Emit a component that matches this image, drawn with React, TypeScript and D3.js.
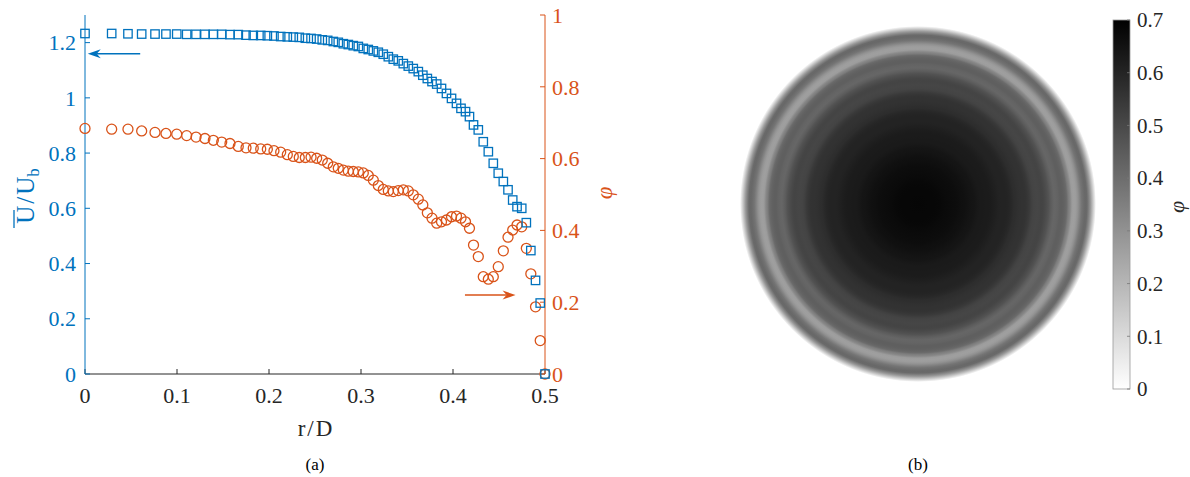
import React from "react";
import * as d3 from "d3";

// r/D sample positions (shared by both series)
const R = [
  0, 0.029, 0.0467, 0.0616, 0.0761, 0.088, 0.0997, 0.1105, 0.1207, 0.1304,
  0.1395, 0.1486, 0.1576, 0.1666, 0.175, 0.1829, 0.191, 0.1982, 0.2054, 0.2127,
  0.2199, 0.2264, 0.2329, 0.2395, 0.2457, 0.2518, 0.2579, 0.2638, 0.2699, 0.2753,
  0.2808, 0.2862, 0.2916, 0.2971, 0.3025, 0.3079, 0.3134, 0.3188, 0.3242, 0.3297,
  0.3351, 0.3405, 0.346, 0.3514, 0.3568, 0.3623, 0.3672, 0.3721, 0.3772, 0.3823,
  0.3875, 0.3929, 0.3984, 0.4038, 0.4087, 0.4136, 0.4179, 0.4223, 0.4275, 0.4329,
  0.4384, 0.4438, 0.4492, 0.4547, 0.4598, 0.4649, 0.4696, 0.4747, 0.4797, 0.4846,
  0.4897, 0.4948, 0.5,
];

// mean velocity U/Ub (squares, left axis)
const U = [
  1.233, 1.233, 1.232, 1.231, 1.231, 1.231, 1.231, 1.23, 1.23, 1.23,
  1.23, 1.23, 1.229, 1.229, 1.227, 1.226, 1.226, 1.225, 1.224, 1.222,
  1.221, 1.22, 1.219, 1.216, 1.215, 1.213, 1.21, 1.208, 1.204, 1.201,
  1.196, 1.193, 1.189, 1.186, 1.179, 1.175, 1.17, 1.165, 1.158, 1.149,
  1.14, 1.134, 1.124, 1.115, 1.106, 1.095, 1.082, 1.07, 1.059, 1.05,
  1.034, 1.016, 0.998, 0.98, 0.962, 0.95, 0.932, 0.902, 0.884, 0.841,
  0.805, 0.763, 0.727, 0.697, 0.667, 0.63, 0.606, 0.6, 0.548, 0.447,
  0.339, 0.257, 0.0,
];

// volume fraction phi (circles, right axis)
const PHI = [
  0.684, 0.682, 0.682, 0.677, 0.673, 0.67, 0.668, 0.664, 0.66, 0.656,
  0.651, 0.646, 0.642, 0.634, 0.63, 0.629, 0.627, 0.626, 0.622, 0.618,
  0.611, 0.606, 0.603, 0.603, 0.604, 0.601, 0.596, 0.587, 0.577, 0.573,
  0.568, 0.565, 0.564, 0.563, 0.56, 0.553, 0.54, 0.525, 0.514, 0.51,
  0.508, 0.511, 0.513, 0.51, 0.499, 0.487, 0.471, 0.449, 0.434, 0.42,
  0.424, 0.429, 0.438, 0.44, 0.434, 0.424, 0.406, 0.359, 0.327, 0.271,
  0.264, 0.271, 0.299, 0.343, 0.381, 0.401, 0.415, 0.41, 0.35, 0.279,
  0.187, 0.093, 0.0,
];

const X_TICKS = [0, 0.1, 0.2, 0.3, 0.4, 0.5];
const U_TICKS = [0, 0.2, 0.4, 0.6, 0.8, 1, 1.2];
const PHI_TICKS = [0, 0.2, 0.4, 0.6, 0.8, 1];
const CB_TICKS = [0, 0.1, 0.2, 0.3, 0.4, 0.5, 0.6, 0.7];

const BLUE = "#0072BD";
const ORANGE = "#D95319";
const AXIS = "#262626";
const FONT = "\"Liberation Serif\", \"Times New Roman\", Tinos, \"DejaVu Serif\", serif";

const fmt = (v: number) => (Math.abs(v - Math.round(v)) < 1e-9 ? String(Math.round(v)) : String(+v.toFixed(2)));

export default function App() {
  const x = d3.scaleLinear().domain([0, 0.5]).range([85, 545]);
  const yU = d3.scaleLinear().domain([0, 1.3]).range([374, 15]);
  const yP = d3.scaleLinear().domain([0, 1]).range([374, 15]);

  // right panel
  const cx = 918;
  const cy = 204;
  const rad = d3.scaleLinear().domain([0, 0.5]).range([0, 178]);
  const gray = d3.scaleLinear<string>().domain([0, 0.7]).range(["#ffffff", "#000000"]).clamp(true);
  const cbY = d3.scaleLinear().domain([0, 0.7]).range([389, 20]);

  const sq = 8.4;
  const blueArrow = { from: 0.06, to: 0.003, val: 1.16 };
  const orangeArrow = { from: 0.413, to: 0.468, val: 0.22 };

  const arrowHead = (tipX: number, tipY: number, dir: number, color: string) => {
    const L = 13, W = 4.5, N = 9;
    const d = `M${tipX},${tipY} L${tipX - dir * L},${tipY - W} L${tipX - dir * N},${tipY} L${tipX - dir * L},${tipY + W} Z`;
    return <path d={d} fill={color} stroke="none" />;
  };

  return (
    <svg width={1190} height={477} style={{ position: "absolute", left: 0, top: 0, background: "#fff", fontFamily: FONT }}>
      <defs>
        <radialGradient id="disk" gradientUnits="userSpaceOnUse" cx={cx} cy={cy} r={rad(0.5)}>
          {R.map((r, i) => (
            <stop key={i} offset={r / 0.5} stopColor={gray(PHI[i])} />
          ))}
        </radialGradient>
        <linearGradient id="cb" x1="0" y1="1" x2="0" y2="0">
          <stop offset="0" stopColor={gray(0)} />
          <stop offset="1" stopColor={gray(0.7)} />
        </linearGradient>
      </defs>

      {/* ===== Panel (a) ===== */}
      <line x1={x(0)} x2={x(0.5)} y1={374} y2={374} stroke={AXIS} strokeWidth={1} />
      {X_TICKS.map((t) => (
        <g key={t}>
          <line x1={x(t)} x2={x(t)} y1={374} y2={369} stroke={AXIS} strokeWidth={1} />
          <text x={x(t)} y={403} fontSize={22} textAnchor="middle" fill={AXIS}>{fmt(t)}</text>
        </g>
      ))}
      <text x={x(0.25)} y={436} fontSize={23} textAnchor="middle" fill={AXIS}>
        <tspan>r</tspan><tspan dx={2}>/</tspan><tspan dx={2}>D</tspan>
      </text>
      <text x={x(0.25)} y={470} fontSize={17} textAnchor="middle" fill="#000">(a)</text>

      {/* left axis */}
      <line x1={x(0)} x2={x(0)} y1={15} y2={374} stroke={BLUE} strokeWidth={1} />
      {U_TICKS.map((t) => (
        <g key={t}>
          <line x1={x(0)} x2={x(0) + 5} y1={yU(t)} y2={yU(t)} stroke={BLUE} strokeWidth={1} />
          <text x={76} y={yU(t)} dy="0.35em" fontSize={22} textAnchor="end" fill={BLUE}>{fmt(t)}</text>
        </g>
      ))}
      <g transform={`translate(34,${196}) rotate(-90)`}>
        <text x={0} y={0} fontSize={25} textAnchor="middle" fill={BLUE}>
          <tspan>U</tspan><tspan dx={2}>/</tspan><tspan dx={2}>U</tspan>
          <tspan fontSize={17} dy={5}>b</tspan>
        </text>
        <line x1={-32} x2={-14} y1={-20} y2={-20} stroke={BLUE} strokeWidth={1.3} />
      </g>

      {/* right axis */}
      <line x1={x(0.5)} x2={x(0.5)} y1={15} y2={374} stroke={ORANGE} strokeWidth={1} />
      {PHI_TICKS.map((t) => (
        <g key={t}>
          <line x1={x(0.5)} x2={x(0.5) - 5} y1={yP(t)} y2={yP(t)} stroke={ORANGE} strokeWidth={1} />
          <text x={552} y={yP(t)} dy="0.35em" fontSize={22} textAnchor="start" fill={ORANGE}>{fmt(t)}</text>
        </g>
      ))}
      <g transform={`translate(604,${193}) rotate(-90)`}>
        <text x={0} y={0} dy="0.35em" fontSize={23} fontStyle="italic" textAnchor="middle" fill={ORANGE}>φ</text>
      </g>

      {/* circles (phi) */}
      {R.map((r, i) => (
        <circle key={"c" + i} cx={x(r)} cy={yP(PHI[i])} r={5} fill="none" stroke={ORANGE} strokeWidth={1.3} />
      ))}
      {/* squares (U) */}
      {R.map((r, i) => (
        <rect key={"s" + i} x={x(r) - sq / 2} y={yU(U[i]) - sq / 2} width={sq} height={sq} fill="none" stroke={BLUE} strokeWidth={1.3} />
      ))}

      {/* arrows */}
      <line x1={x(blueArrow.from)} x2={x(blueArrow.to) + 9} y1={yU(blueArrow.val)} y2={yU(blueArrow.val)} stroke={BLUE} strokeWidth={1.5} />
      {arrowHead(x(blueArrow.to), yU(blueArrow.val), -1, BLUE)}
      <line x1={x(orangeArrow.from)} x2={x(orangeArrow.to) - 9} y1={yP(orangeArrow.val)} y2={yP(orangeArrow.val)} stroke={ORANGE} strokeWidth={1.5} />
      {arrowHead(x(orangeArrow.to), yP(orangeArrow.val), 1, ORANGE)}

      {/* ===== Panel (b) ===== */}
      <circle cx={cx} cy={cy} r={rad(0.5)} fill="url(#disk)" />
      <text x={cx} y={470} fontSize={17} textAnchor="middle" fill="#000">(b)</text>

      {/* colorbar */}
      <rect x={1113} y={cbY(0.7)} width={17} height={cbY(0) - cbY(0.7)} fill="url(#cb)" stroke="#999" strokeWidth={0.8} />
      {CB_TICKS.map((t) => (
        <g key={t}>
          <line x1={1130} x2={1127} y1={cbY(t)} y2={cbY(t)} stroke="#777" strokeWidth={0.8} />
          <text x={1137} y={cbY(t)} dy="0.35em" fontSize={21} fill={AXIS}>{fmt(t)}</text>
        </g>
      ))}
      <g transform={`translate(1176,${207}) rotate(-90)`}>
        <text x={0} y={0} dy="0.35em" fontSize={22} fontStyle="italic" textAnchor="middle" fill={AXIS}>φ</text>
      </g>
    </svg>
  );
}
